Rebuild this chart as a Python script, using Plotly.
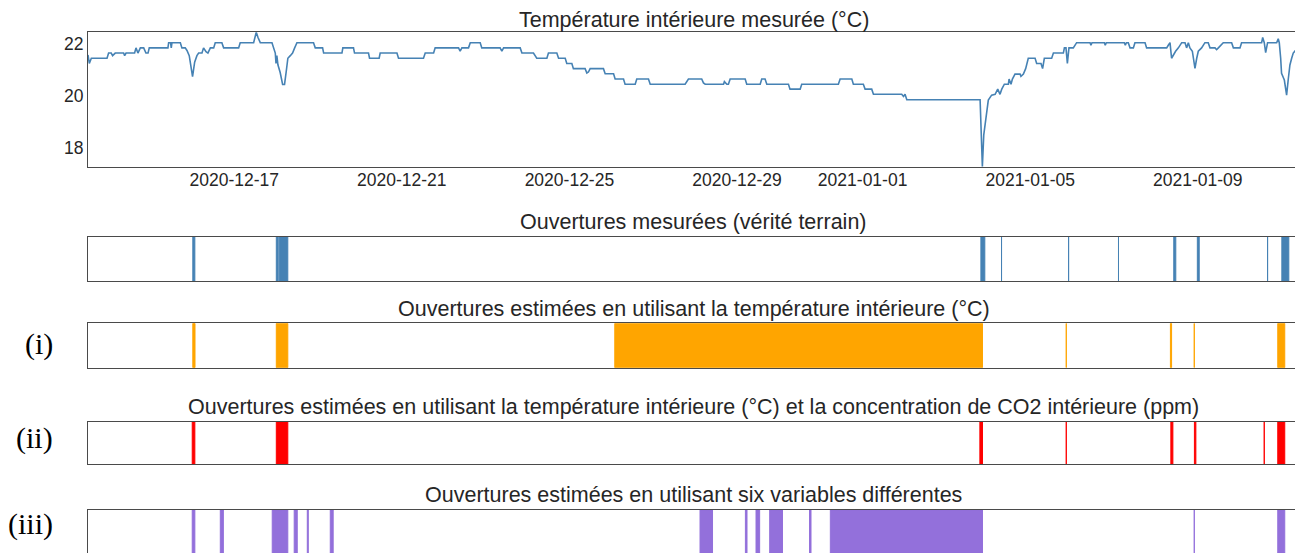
import pandas as pd
import plotly.graph_objects as go
from plotly.subplots import make_subplots

# indoor temperature, hours since T_START
T_START = pd.Timestamp("2020-12-13 12:00")
temp_hours = [
    0.2, 0.95, 2.1, 11.1, 12.0, 13.5, 14.3, 15.8, 20.6, 21.2, 22.0, 26.9, 27.7, 28.8,
    30.2, 32.1, 33.4, 34.6, 35.3, 46.0, 46.4, 47.5, 47.9, 48.3, 53.1, 54.0, 55.9, 56.9,
    58.2, 60.1, 61.3, 62.6, 63.6, 65.5, 66.4, 67.8, 68.9, 70.3, 72.2, 73.1, 76.9, 77.9,
    86.5, 87.4, 95.1, 96.0, 96.6, 97.6, 98.9, 105.6, 106.5, 107.5, 107.9, 108.4, 109.0,
    110.3, 111.7, 112.8, 113.8, 114.7, 116.1, 117.4, 118.6, 119.9, 129.4, 130.4, 134.6,
    135.2, 145.7, 146.2, 152.3, 152.9, 160.9, 161.5, 167.0, 167.6, 177.2, 178.1, 192.4,
    193.4, 198.2, 199.1, 212.5, 213.4, 214.4, 218.2, 219.2, 224.9, 225.8, 236.3, 237.3,
    238.3, 247.8, 248.8, 255.4, 256.4, 257.3, 263.1, 264.0, 268.8, 269.8, 273.6, 274.5,
    277.4, 278.3, 285.0, 286.0, 286.9, 287.9, 295.5, 296.5, 301.3, 302.2, 307.0, 307.9,
    313.7, 314.6, 321.3, 322.3, 342.3, 343.3, 344.2, 351.8, 352.8, 353.8, 364.3, 364.8,
    366.2, 367.1, 368.1, 376.7, 377.6, 385.3, 386.2, 388.1, 389.1, 401.5, 402.4, 408.2,
    409.1, 430.1, 431.1, 437.8, 438.7, 444.4, 445.4, 449.2, 450.2, 466.4, 467.4, 468.3,
    469.3, 511.3, 512.6, 513.4, 514.1, 515.1, 516.0, 517.9, 519.9, 521.4, 522.7, 523.7,
    525.2, 527.5, 527.9, 529.0, 529.8, 531.3, 534.2, 534.7, 536.1, 537.4, 538.9, 542.8,
    543.7, 546.2, 547.1, 548.1, 552.3, 553.3, 559.0, 559.6, 560.5, 561.3, 562.2, 564.7,
    566.6, 574.3, 574.8, 575.4, 582.5, 583.0, 583.6, 593.9, 594.5, 595.1, 596.2, 597.2,
    599.1, 600.0, 605.8, 606.7, 618.2, 619.1, 620.1, 621.0, 622.0, 623.3, 624.9, 626.8,
    628.7, 629.6, 630.6, 631.5, 632.9, 634.4, 635.4, 636.3, 638.2, 640.1, 642.0, 643.0,
    645.9, 646.8, 647.8, 650.6, 655.4, 656.4, 660.2, 661.1, 672.6, 673.2, 674.1, 674.9,
    676.0, 681.2, 682.1, 682.7, 683.5, 684.0, 685.6, 686.9, 687.9, 688.8, 689.8, 690.7,
    692.0, 692.6, 694.0,
]
temp_values = [
    21.58, 21.25, 21.45, 21.45, 21.65, 21.65, 21.55, 21.65, 21.65, 21.55, 21.65, 21.65, 21.85, 21.65,
    21.85, 21.85, 21.65, 21.65, 21.85, 21.85, 22.05, 22.05, 21.85, 22.05, 22.05, 21.85, 21.85, 21.75,
    21.55, 20.74, 21.3, 21.55, 21.65, 21.65, 21.85, 21.7, 21.65, 21.85, 21.85, 22.05, 22.05, 21.85,
    21.85, 22.05, 22.05, 22.25, 22.45, 22.25, 22.05, 22.05, 21.85, 21.65, 21.25, 21.55, 21.2,
    20.9, 20.44, 20.44, 20.95, 21.45, 21.55, 21.65, 21.85, 22.05, 22.05, 21.85, 21.85,
    21.65, 21.65, 21.85, 21.85, 21.65, 21.65, 21.45, 21.45, 21.65, 21.65, 21.45, 21.45,
    21.65, 21.65, 21.85, 21.85, 21.72, 21.85, 21.85, 22.05, 22.05, 21.85, 21.85, 21.72,
    21.85, 21.85, 21.65, 21.65, 21.55, 21.45, 21.45, 21.65, 21.65, 21.45, 21.45, 21.25,
    21.25, 21.05, 21.05, 20.88, 20.92, 21.05, 21.05, 20.85, 20.85, 20.65, 20.65, 20.45,
    20.45, 20.65, 20.65, 20.45, 20.45, 20.55, 20.65, 20.65, 20.5, 20.45, 20.45, 20.55,
    20.45, 20.45, 20.65, 20.65, 20.45, 20.45, 20.65, 20.65, 20.45, 20.45, 20.26, 20.26,
    20.45, 20.45, 20.65, 20.65, 20.45, 20.45, 20.26, 20.26, 20.06, 20.06, 19.98, 20.06,
    19.85, 19.85, 17.27, 18.5, 18.87, 19.52, 19.84, 20.03, 20.06, 20.26, 20.06, 20.26,
    20.45, 20.45, 20.65, 20.45, 20.65, 20.84, 20.84, 20.75, 20.84, 21.05, 21.45, 21.45,
    21.25, 21.25, 21.05, 21.45, 21.45, 21.65, 21.65, 21.85, 21.85, 21.25, 21.85, 21.85,
    22.05, 22.05, 21.95, 22.05, 22.05, 21.95, 22.05, 22.05, 21.95, 22.05, 22.05, 21.85,
    21.85, 22.05, 22.05, 21.85, 21.85, 21.95, 22.05, 21.45, 21.58, 21.72, 21.85, 22.05,
    22.05, 21.85, 22.05, 21.85, 21.72, 21.06, 21.45, 21.72, 21.85, 22.05, 22.05, 21.85,
    21.85, 21.78, 21.85, 22.05, 22.05, 21.85, 21.85, 22.05, 22.05, 22.25, 22.05, 21.67,
    22.05, 22.05, 22.2, 22.05, 21.45, 20.87, 20.61, 20.03, 20.67, 21.19, 21.45, 21.65,
    21.75, 21.65, 21.65,
]

date_ticks = ["2020-12-17", "2020-12-21", "2020-12-25", "2020-12-29",
              "2021-01-01", "2021-01-05", "2021-01-09"]
temp_ticks = [18, 20, 22]

# opening periods (start / end)
truth_start = ["2020-12-16 00:15", "2020-12-18 00:05", "2020-12-18 01:45", "2021-01-03 19:45",
               "2021-01-04 07:35", "2021-01-05 22:00", "2021-01-07 02:35", "2021-01-08 10:15",
               "2021-01-08 23:45", "2021-01-10 16:00", "2021-01-11 00:10"]
truth_end = ["2020-12-16 01:25", "2020-12-18 01:10", "2020-12-18 06:40", "2021-01-03 22:00",
             "2021-01-04 08:00", "2021-01-05 22:25", "2021-01-07 03:00", "2021-01-08 11:25",
             "2021-01-09 00:50", "2021-01-10 16:20", "2021-01-11 04:10"]

temp_start = ["2020-12-16 00:15", "2020-12-18 00:05", "2020-12-26 02:00", "2021-01-05 20:40",
              "2021-01-08 08:20", "2021-01-08 22:00", "2021-01-10 21:50"]
temp_end = ["2020-12-16 01:30", "2020-12-18 06:40", "2021-01-03 20:40", "2021-01-05 21:00",
            "2021-01-08 09:00", "2021-01-08 22:10", "2021-01-11 01:50"]

co2_start = ["2020-12-15 23:55", "2020-12-18 00:05", "2021-01-03 19:10", "2021-01-05 20:40",
             "2021-01-08 08:35", "2021-01-08 22:05", "2021-01-10 14:05", "2021-01-10 21:50"]
co2_end = ["2020-12-16 01:25", "2020-12-18 06:40", "2021-01-03 20:40", "2021-01-05 21:00",
           "2021-01-08 09:45", "2021-01-08 22:55", "2021-01-10 14:20", "2021-01-11 01:50"]

six_start = ["2020-12-15 23:55", "2020-12-16 16:00", "2020-12-17 21:45", "2020-12-18 10:20",
             "2020-12-18 17:50", "2020-12-19 07:00", "2020-12-28 02:50", "2020-12-29 04:50",
             "2020-12-29 10:55", "2020-12-29 18:45", "2020-12-30 17:35", "2020-12-31 05:30",
             "2021-01-08 22:00", "2021-01-10 21:50"]
six_end = ["2020-12-16 01:25", "2020-12-16 17:45", "2020-12-18 06:40", "2020-12-18 12:05",
           "2020-12-18 18:25", "2020-12-19 08:40", "2020-12-28 10:00", "2020-12-29 05:45",
           "2020-12-29 13:00", "2020-12-30 02:05", "2020-12-30 18:25", "2021-01-03 20:40",
           "2021-01-08 22:10", "2021-01-11 01:50"]

TEXT = "#262626"
FRAME = "#4a4a4a"
SANS = "Liberation Sans, Arial, sans-serif"
SERIF = "Liberation Serif, Times New Roman, serif"

# the page body keeps its default 8px margin, so the figure is 8px smaller
WIDTH, HEIGHT = 1295, 545

# panel domains (paper fraction), top -> bottom
DOMAINS = [(0.7088, 0.9554), (0.4991, 0.5804), (0.3400, 0.4215), (0.1627, 0.2409), (0.0, 0.0789)]
TITLE_SHIFT = [12.5, 14.5, 14.5, 14.5, 14.5]

STRIPS = [
    ("Ouvertures mesurées (vérité terrain)", truth_start, truth_end, "#4682b4", None, None),
    ("Ouvertures estimées en utilisant la température intérieure (°C)",
     temp_start, temp_end, "#ffa500", "(i)", 0.3835),
    ("Ouvertures estimées en utilisant la température intérieure (°C) et la concentration "
     "de CO2 intérieure (ppm)", co2_start, co2_end, "#ff0000", "(ii)", 0.211),
    ("Ouvertures estimées en utilisant six variables différentes",
     six_start, six_end, "#9370db", "(iii)", 0.0532),
]


def event_trace(starts, ends, color):
    """Filled rectangles spanning the strip for every opening period."""
    xs, ys = [], []
    for s, e in zip(starts, ends):
        xs += [s, s, e, e, s, None]
        ys += [0, 1, 1, 0, 0, None]
    return go.Scatter(
        x=xs, y=ys, mode="lines", fill="toself", fillcolor=color,
        line=dict(color=color, width=1), showlegend=False, hoverinfo="skip",
    )


temp_time = T_START + pd.to_timedelta(temp_hours, unit="h")
x_range = [temp_time.min(), temp_time.max()]

fig = make_subplots(rows=5, cols=1)
fig.add_trace(go.Scatter(
    x=temp_time, y=temp_values, mode="lines",
    line=dict(color="#4682b4", width=1.6), showlegend=False,
), row=1, col=1)

for i, (_, starts, ends, color, _, _) in enumerate(STRIPS, start=2):
    fig.add_trace(event_trace(starts, ends, color), row=i, col=1)

axis_common = dict(showline=True, linecolor=FRAME, linewidth=1.2, mirror=True,
                   showgrid=False, zeroline=False, ticks="")

for i in range(1, 6):
    fig.update_xaxes(range=x_range, type="date", showticklabels=(i == 1),
                     row=i, col=1, **axis_common)
    fig.update_yaxes(domain=list(DOMAINS[i - 1]), row=i, col=1, **axis_common)

fig.update_xaxes(tickvals=date_ticks, ticktext=date_ticks, ticklabelstandoff=-3,
                 tickfont=dict(size=17.5, color=TEXT, family=SANS), row=1, col=1)
fig.update_yaxes(range=[17.27, 22.45], tickvals=temp_ticks,
                 tickfont=dict(size=17.5, color=TEXT, family=SANS), row=1, col=1)
for i in range(2, 6):
    fig.update_yaxes(range=[0, 1], showticklabels=False, row=i, col=1)
# last strip is cut by the page edge: frame only on top and sides
fig.update_xaxes(mirror=False, side="top", row=5, col=1)

titles = ["Température intérieure mesurée (°C)"] + [s[0] for s in STRIPS]
for (lo, hi), shift, title in zip(DOMAINS, TITLE_SHIFT, titles):
    fig.add_annotation(text=title, x=0.5, xref="paper", y=hi, yref="paper",
                       yshift=shift, yanchor="middle", xanchor="center", showarrow=False,
                       font=dict(size=21.5, color=TEXT, family=SANS))

for _, _, _, _, label, ypos in STRIPS:
    if label:
        fig.add_annotation(text=label, x=0, xref="paper", xshift=-33, xanchor="right",
                           y=ypos, yref="paper", yanchor="middle", showarrow=False,
                           font=dict(size=30, color="#000000", family=SERIF))

fig.update_layout(
    width=WIDTH, height=HEIGHT,
    margin=dict(l=80, r=4, t=0, b=0),
    paper_bgcolor="white", plot_bgcolor="white",
    font=dict(family=SANS, color=TEXT),
)
fig.write_html("out.html")
